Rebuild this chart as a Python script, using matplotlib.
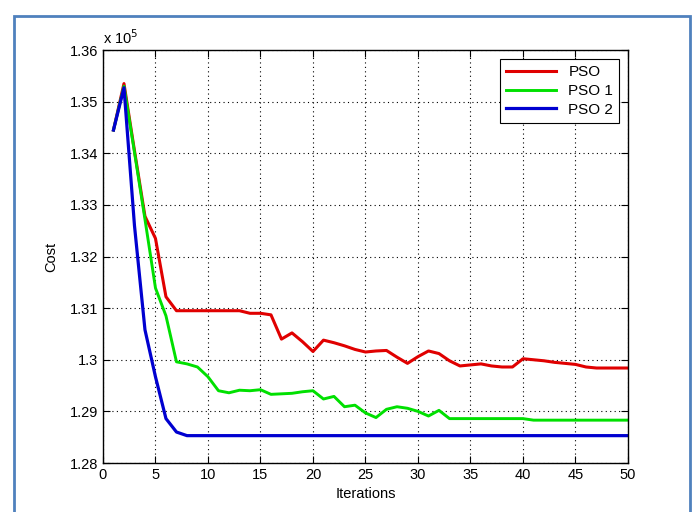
import matplotlib
matplotlib.use("Agg")
import matplotlib.pyplot as plt
from matplotlib.patches import Rectangle
from matplotlib.ticker import FuncFormatter

# cost values, in units of 1e5
iterations = list(range(1, 51))
pso = [1.3445, 1.3535, 1.3405, 1.3278, 1.3235, 1.3122, 1.3095, 1.3095, 1.3095, 1.3095,
       1.3095, 1.3095, 1.3095, 1.3090, 1.3090, 1.3087, 1.3040, 1.3052, 1.3035, 1.3016,
       1.3038, 1.3033, 1.3027, 1.3020, 1.3015, 1.3017, 1.3018, 1.3005, 1.2993, 1.3006,
       1.3017, 1.3012, 1.2998, 1.2988, 1.2990, 1.2992, 1.2988, 1.2986, 1.2986, 1.3002,
       1.3000, 1.2998, 1.2995, 1.2993, 1.2991, 1.2986, 1.2984, 1.2984, 1.2984, 1.2984]
pso1 = [1.3445, 1.3530, 1.3402, 1.3272, 1.3139, 1.3085, 1.2996, 1.2992, 1.2986, 1.2967,
        1.2940, 1.2936, 1.2941, 1.2940, 1.2942, 1.2933, 1.2934, 1.2935, 1.2938, 1.2940,
        1.2924, 1.2929, 1.2909, 1.2912, 1.2897, 1.2888, 1.2904, 1.2909, 1.2906, 1.2900,
        1.2891, 1.2902, 1.2886, 1.2886, 1.2886, 1.2886, 1.2886, 1.2886, 1.2886, 1.2886,
        1.2883, 1.2883, 1.2883, 1.2883, 1.2883, 1.2883, 1.2883, 1.2883, 1.2883, 1.2883]
pso2 = [1.3445, 1.3527, 1.3260, 1.3058, 1.2967, 1.2886, 1.2860, 1.2853, 1.2853, 1.2853,
        1.2853, 1.2853, 1.2853, 1.2853, 1.2853, 1.2853, 1.2853, 1.2853, 1.2853, 1.2853,
        1.2853, 1.2853, 1.2853, 1.2853, 1.2853, 1.2853, 1.2853, 1.2853, 1.2853, 1.2853,
        1.2853, 1.2853, 1.2853, 1.2853, 1.2853, 1.2853, 1.2853, 1.2853, 1.2853, 1.2853,
        1.2853, 1.2853, 1.2853, 1.2853, 1.2853, 1.2853, 1.2853, 1.2853, 1.2853, 1.2853]

plt.rcParams["font.family"] = ["Liberation Sans", "DejaVu Sans"]

fig = plt.figure(figsize=(6.92, 5.12), dpi=100)
ax = fig.add_axes([0.1488, 0.0957, 0.7587, 0.8066])

ax.plot(iterations, pso, color="#e00000", lw=2.2, label="PSO")
ax.plot(iterations, pso1, color="#00e000", lw=2.1, label="PSO 1")
ax.plot(iterations, pso2, color="#0000d0", lw=2.3, label="PSO 2")

ax.set_xlim(0, 50)
ax.set_ylim(1.28, 1.36)
ax.set_xticks(range(0, 51, 5))
ax.set_yticks([1.28 + 0.01 * i for i in range(9)])
ax.yaxis.set_major_formatter(FuncFormatter(lambda v, p: "%g" % round(v, 2)))
ax.grid(True, color="black", linestyle=(0, (1, 3)), linewidth=0.8)
ax.tick_params(direction="in", top=True, right=True, labelsize=10.5, length=5)
for s in ax.spines.values():
    s.set_linewidth(1.0)

ax.set_xlabel("Iterations", fontsize=10.5, labelpad=4)
ax.set_ylabel("Cost", fontsize=10.5, labelpad=8)
ax.text(0.0, 1.008, r"x 10$^5$", transform=ax.transAxes, fontsize=10.5,
        ha="left", va="bottom")

leg = ax.legend(loc="upper right", bbox_to_anchor=(0.9834, 0.9775),
                borderaxespad=0, fancybox=False, framealpha=1, edgecolor="black",
                fontsize=11, handlelength=3.3, labelspacing=0.3)
leg.get_frame().set_linewidth(0.8)

# picture border
fig.patches.append(Rectangle((14 / 692, -0.05), (690 - 14) / 692, 1 - 16 / 512 + 0.05,
                             transform=fig.transFigure, fill=False,
                             edgecolor="#4f81bd", linewidth=2))

fig.savefig("out.png", dpi=100)
